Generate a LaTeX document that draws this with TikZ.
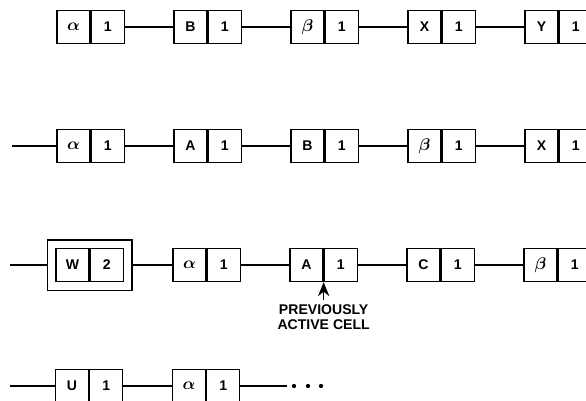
\documentclass[tikz,border=0pt]{standalone}
\usepackage{amsmath}
\usepackage{fontspec}
\setmainfont{Liberation Sans}
\usetikzlibrary{positioning}
\usetikzlibrary{fit}
\usetikzlibrary{arrows.meta}

\newcommand{\grk}[1]{{\fontsize{15}{15}\selectfont$\boldsymbol{#1}$}}

\begin{document}
\begin{tikzpicture}[x=0.3mm, y=-0.3mm, line width=1.1pt,
    every node/.style={font=\fontsize{12}{12.5}\selectfont\bfseries},
    half/.style={draw, rectangle, minimum width=9.9mm, minimum height=9.9mm, inner sep=0pt},
    dot/.style={circle, fill=black, inner sep=1.3pt}]
  \useasboundingbox (0,0) rectangle (586,400);
  \clip (0,0) rectangle (586,400);

  % First list
  \foreach \i/\lab in {1/{\grk\alpha},2/B,3/{\grk\beta},4/X,5/Y} {
    \node[half] (n1\i) at ({73.5+117*(\i-1)},27) {\lab};
    \node[half, right=0pt of n1\i] (c1\i) {1};
  }
  \foreach \i/\j in {1/2,2/3,3/4,4/5}
    \draw (c1\i) -- (n1\j);

  % Second list
  \coordinate (s2) at (12,146);
  \foreach \i/\lab in {1/{\grk\alpha},2/A,3/B,4/{\grk\beta},5/X} {
    \node[half] (n2\i) at ({73.5+117*(\i-1)},146) {\lab};
    \node[half, right=0pt of n2\i] (c2\i) {1};
  }
  \draw (s2) -- (n21);
  \foreach \i/\j in {1/2,2/3,3/4,4/5}
    \draw (c2\i) -- (n2\j);

  % Third list, new cell in a frame
  \coordinate (s3) at (10,265);
  \foreach \i/\lab/\cnt in {1/W/2,2/{\grk\alpha}/1,3/A/1,4/C/1,5/{\grk\beta}/1} {
    \node[half] (n3\i) at ({72.5+117*(\i-1)},265) {\lab};
    \node[half, right=0pt of n3\i] (c3\i) {\cnt};
  }
  \node[draw, fit=(n31)(c31), inner sep=2.4mm] (frame) {};
  \draw (s3) -- (frame);
  \draw (frame) -- (n32);
  \foreach \i/\j in {2/3,3/4,4/5}
    \draw (c3\i) -- (n3\j);

  \node[align=center, below=5.5mm of c33.south west] (prev) {PREVIOUSLY\\ACTIVE CELL};
  \draw[-{Stealth[length=4.2mm, width=3.4mm]}] (prev.north) -- (c33.south west);

  % Fourth list
  \coordinate (s4) at (10,386);
  \foreach \i/\lab in {1/U,2/{\grk\alpha}} {
    \node[half] (n4\i) at ({72+117*(\i-1)},386) {\lab};
    \node[half, right=0pt of n4\i] (c4\i) {1};
  }
  \coordinate (e4) at (287,386);
  \draw (s4) -- (n41);
  \draw (c41) -- (n42);
  \draw (c42) -- (e4);
  \foreach \k/\x in {1/294,2/308,3/321}
    \node[dot] (d\k) at (\x,386) {};
\end{tikzpicture}
\end{document}
